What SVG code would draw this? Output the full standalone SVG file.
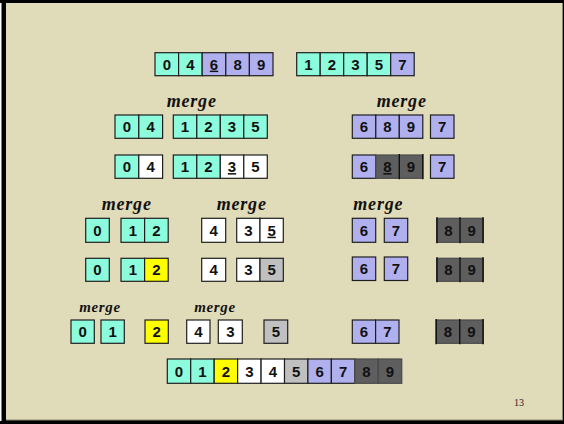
<svg xmlns="http://www.w3.org/2000/svg" width="564" height="424" viewBox="0 0 564 424">
<style>
rect.c{stroke:#1e1e1e;stroke-width:1.2}
.t{fill:#8cfcdc}.l{fill:#b0b0ee}.w{fill:#ffffff}.y{fill:#ffff00}.g{fill:#c0c0c0}.d{fill:#5e5e5e;stroke:#4a4a4a!important}
text.n{font-family:"Liberation Sans",Arial,sans-serif;font-weight:bold;font-size:15px;text-anchor:middle;fill:#111}
text.m{font-family:"Liberation Serif","Times New Roman",serif;font-weight:bold;font-style:italic;font-size:18px;letter-spacing:0.8px;text-anchor:middle;fill:#111}
text.s{font-size:15px;letter-spacing:0.6px}
.u{text-decoration:underline}
line.k{stroke:#111;stroke-width:1.4}
</style>
<rect x="0" y="0" width="564" height="424" fill="#000"/>
<rect x="0" y="3" width="1.5" height="418" fill="#fff"/>
<rect x="6" y="3" width="557" height="417.5" fill="#8a8870"/>
<rect x="6" y="3" width="556" height="416.5" fill="#e0dbb8"/>

<g id="top-left">
<rect class="c t" x="155" y="52.7" width="23.6" height="23"/><text class="n" x="166.8" y="69.6">0</text>
<rect class="c t" x="178.6" y="52.7" width="23.6" height="23"/><text class="n" x="190.4" y="69.6">4</text>
<rect class="c l" x="202.2" y="52.7" width="23.6" height="23"/><text class="n u" x="214" y="69.6">6</text>
<rect class="c l" x="225.8" y="52.7" width="23.6" height="23"/><text class="n" x="237.6" y="69.6">8</text>
<rect class="c l" x="249.4" y="52.7" width="23.6" height="23"/><text class="n" x="261.2" y="69.6">9</text>
</g>
<g id="top-right">
<rect class="c t" x="296.7" y="52.7" width="23.5" height="23"/><text class="n" x="308.4" y="69.6">1</text>
<rect class="c t" x="320.2" y="52.7" width="23.5" height="23"/><text class="n" x="331.9" y="69.6">2</text>
<rect class="c t" x="343.7" y="52.7" width="23.5" height="23"/><text class="n" x="355.4" y="69.6">3</text>
<rect class="c t" x="367.2" y="52.7" width="23.5" height="23"/><text class="n" x="378.9" y="69.6">5</text>
<rect class="c l" x="390.7" y="52.7" width="23.5" height="23"/><text class="n" x="402.4" y="69.6">7</text>
</g>

<g id="labels-row2">
<text class="m" x="191.7" y="107">merge</text>
<text class="m" x="401.7" y="107">merge</text>
</g>
<g id="r2-a">
<rect class="c t" x="115" y="115" width="23.8" height="23.3"/><text class="n" x="126.9" y="132.1">0</text>
<rect class="c t" x="138.8" y="115" width="23.8" height="23.3"/><text class="n" x="150.7" y="132.1">4</text>
</g>
<g id="r2-b">
<rect class="c t" x="173.3" y="115" width="23.5" height="23.3"/><text class="n" x="185" y="132.1">1</text>
<rect class="c t" x="196.8" y="115" width="23.5" height="23.3"/><text class="n" x="208.5" y="132.1">2</text>
<rect class="c t" x="220.3" y="115" width="23.5" height="23.3"/><text class="n" x="232" y="132.1">3</text>
<rect class="c t" x="243.8" y="115" width="23.5" height="23.3"/><text class="n" x="255.5" y="132.1">5</text>
</g>
<g id="r2-c">
<rect class="c l" x="352.3" y="115" width="23.5" height="23.3"/><text class="n" x="364" y="132.1">6</text>
<rect class="c l" x="375.8" y="115" width="23.5" height="23.3"/><text class="n" x="387.5" y="132.1">8</text>
<rect class="c l" x="399.3" y="115" width="23.5" height="23.3"/><text class="n" x="411" y="132.1">9</text>
</g>
<g id="r2-d">
<rect class="c l" x="430.5" y="115" width="23.5" height="23.3"/><text class="n" x="442.2" y="132.1">7</text>
</g>

<g id="r3-a">
<rect class="c t" x="115" y="155" width="23.8" height="23.3"/><text class="n" x="126.9" y="172.1">0</text>
<rect class="c w" x="138.8" y="155" width="23.8" height="23.3"/><text class="n" x="150.7" y="172.1">4</text>
</g>
<g id="r3-b">
<rect class="c t" x="173.3" y="155" width="23.5" height="23.3"/><text class="n" x="185" y="172.1">1</text>
<rect class="c t" x="196.8" y="155" width="23.5" height="23.3"/><text class="n" x="208.5" y="172.1">2</text>
<rect class="c w" x="220.3" y="155" width="23.5" height="23.3"/><text class="n u" x="232" y="172.1">3</text>
<rect class="c w" x="243.8" y="155" width="23.5" height="23.3"/><text class="n" x="255.5" y="172.1">5</text>
</g>
<g id="r3-c">
<rect class="c l" x="352.3" y="155" width="23.5" height="23.3"/><text class="n" x="364" y="172.1">6</text>
<rect class="c d" x="375.8" y="155" width="47" height="23.3"/>
<line class="k" x1="399.3" y1="154" x2="399.3" y2="179.3"/><line class="k" x1="422.8" y1="154" x2="422.8" y2="179.3"/>
<text class="n u" x="387.5" y="172.1">8</text><text class="n" x="411" y="172.1">9</text>
</g>
<g id="r3-d">
<rect class="c l" x="430.5" y="155" width="23.5" height="23.3"/><text class="n" x="442.2" y="172.1">7</text>
</g>

<g id="labels-row4">
<text class="m" x="126.7" y="210">merge</text>
<text class="m" x="241.7" y="210">merge</text>
<text class="m" x="378.3" y="210">merge</text>
</g>
<g id="r4-a">
<rect class="c t" x="85.7" y="218.3" width="23.6" height="24"/><text class="n" x="97.5" y="235.7">0</text>
</g>
<g id="r4-b">
<rect class="c t" x="121" y="218.3" width="23.6" height="24"/><text class="n" x="132.8" y="235.7">1</text>
<rect class="c t" x="144.6" y="218.3" width="23.6" height="24"/><text class="n" x="156.4" y="235.7">2</text>
</g>
<g id="r4-c">
<rect class="c w" x="201.7" y="218.3" width="24" height="24"/><text class="n" x="213.7" y="235.7">4</text>
</g>
<g id="r4-d">
<rect class="c w" x="236.7" y="218.3" width="23.3" height="24"/><text class="n" x="248.3" y="235.7">3</text>
<rect class="c w" x="260" y="218.3" width="23.3" height="24"/><text class="n u" x="271.6" y="235.7">5</text>
</g>
<g id="r4-e">
<rect class="c l" x="352.3" y="218.3" width="23.4" height="24"/><text class="n" x="364" y="235.7">6</text>
</g>
<g id="r4-f">
<rect class="c l" x="384.3" y="218.3" width="23.4" height="24"/><text class="n" x="396" y="235.7">7</text>
</g>
<g id="r4-g">
<rect class="c d" x="436.7" y="218.3" width="46.6" height="24"/>
<line class="k" x1="437" y1="217.3" x2="437" y2="243.3"/><line class="k" x1="460" y1="217.3" x2="460" y2="243.3"/><line class="k" x1="483" y1="217.3" x2="483" y2="243.3"/>
<text class="n" x="448.4" y="235.7">8</text><text class="n" x="471.6" y="235.7">9</text>
</g>

<g id="r5-a">
<rect class="c t" x="85.7" y="258.3" width="23.6" height="23"/><text class="n" x="97.5" y="275.2">0</text>
</g>
<g id="r5-b">
<rect class="c t" x="121" y="258.3" width="23.6" height="23"/><text class="n" x="132.8" y="275.2">1</text>
<rect class="c y" x="144.6" y="258.3" width="23.6" height="23"/><text class="n" x="156.4" y="275.2">2</text>
</g>
<g id="r5-c">
<rect class="c w" x="201.7" y="258.3" width="24" height="23"/><text class="n" x="213.7" y="275.2">4</text>
</g>
<g id="r5-d">
<rect class="c w" x="236.7" y="258.3" width="23.3" height="23"/><text class="n" x="248.3" y="275.2">3</text>
<rect class="c g" x="260" y="258.3" width="23.3" height="23"/><text class="n" x="271.6" y="275.2">5</text>
</g>
<g id="r5-e">
<rect class="c l" x="352.3" y="257" width="23.4" height="23.5"/><text class="n" x="364" y="274.2">6</text>
</g>
<g id="r5-f">
<rect class="c l" x="384.3" y="257" width="23.4" height="23.5"/><text class="n" x="396" y="274.2">7</text>
</g>
<g id="r5-g">
<rect class="c d" x="436.7" y="258.3" width="46.6" height="23"/>
<line class="k" x1="437" y1="257.3" x2="437" y2="282.3"/><line class="k" x1="460" y1="257.3" x2="460" y2="282.3"/><line class="k" x1="483" y1="257.3" x2="483" y2="282.3"/>
<text class="n" x="448.4" y="275.2">8</text><text class="n" x="471.6" y="275.2">9</text>
</g>

<g id="labels-row6">
<text class="m s" x="100" y="312">merge</text>
<text class="m s" x="215" y="312">merge</text>
</g>
<g id="r6-a"><rect class="c t" x="71" y="320" width="23.3" height="23.3"/><text class="n" x="82.7" y="337.1">0</text></g>
<g id="r6-b"><rect class="c t" x="101" y="320" width="23.3" height="23.3"/><text class="n" x="112.7" y="337.1">1</text></g>
<g id="r6-c"><rect class="c y" x="145" y="320" width="23.3" height="23.3"/><text class="n" x="156.7" y="337.1">2</text></g>
<g id="r6-d"><rect class="c w" x="186.7" y="320" width="23.3" height="23.3"/><text class="n" x="198.3" y="337.1">4</text></g>
<g id="r6-e"><rect class="c w" x="218.3" y="320" width="24" height="23.3"/><text class="n" x="230.3" y="337.1">3</text></g>
<g id="r6-f"><rect class="c g" x="264" y="320" width="23.7" height="23.3"/><text class="n" x="275.8" y="337.1">5</text></g>
<g id="r6-g">
<rect class="c l" x="352.3" y="320" width="23.3" height="23.3"/><text class="n" x="364" y="337.1">6</text>
<rect class="c l" x="375.6" y="320" width="23.4" height="23.3"/><text class="n" x="387.3" y="337.1">7</text>
</g>
<g id="r6-h">
<rect class="c d" x="436" y="320" width="47.3" height="23.3"/>
<line class="k" x1="436.3" y1="319" x2="436.3" y2="344.3"/><line class="k" x1="459.7" y1="319" x2="459.7" y2="344.3"/><line class="k" x1="483" y1="319" x2="483" y2="344.3"/>
<text class="n" x="448" y="337.1">8</text><text class="n" x="471.4" y="337.1">9</text>
</g>

<g id="result">
<rect class="c t" x="167.3" y="359" width="23.44" height="24.3"/><text class="n" x="179" y="376.6">0</text>
<rect class="c t" x="190.7" y="359" width="23.44" height="24.3"/><text class="n" x="202.4" y="376.6">1</text>
<rect class="c y" x="214.2" y="359" width="23.44" height="24.3"/><text class="n" x="225.9" y="376.6">2</text>
<rect class="c w" x="237.6" y="359" width="23.44" height="24.3"/><text class="n" x="249.3" y="376.6">3</text>
<rect class="c w" x="261.1" y="359" width="23.44" height="24.3"/><text class="n" x="272.8" y="376.6">4</text>
<rect class="c g" x="284.5" y="359" width="23.44" height="24.3"/><text class="n" x="296.2" y="376.6">5</text>
<rect class="c l" x="307.9" y="359" width="23.44" height="24.3"/><text class="n" x="319.6" y="376.6">6</text>
<rect class="c l" x="331.4" y="359" width="23.44" height="24.3"/><text class="n" x="343.1" y="376.6">7</text>
<rect class="c d" x="354.8" y="359" width="23.44" height="24.3"/><text class="n" x="366.5" y="376.6">8</text>
<rect class="c d" x="378.3" y="359" width="23.44" height="24.3"/><text class="n" x="390" y="376.6">9</text>
</g>

<text x="519" y="406" font-family="'Liberation Serif','Times New Roman',serif" font-size="10" text-anchor="middle" fill="#222">13</text>
</svg>
